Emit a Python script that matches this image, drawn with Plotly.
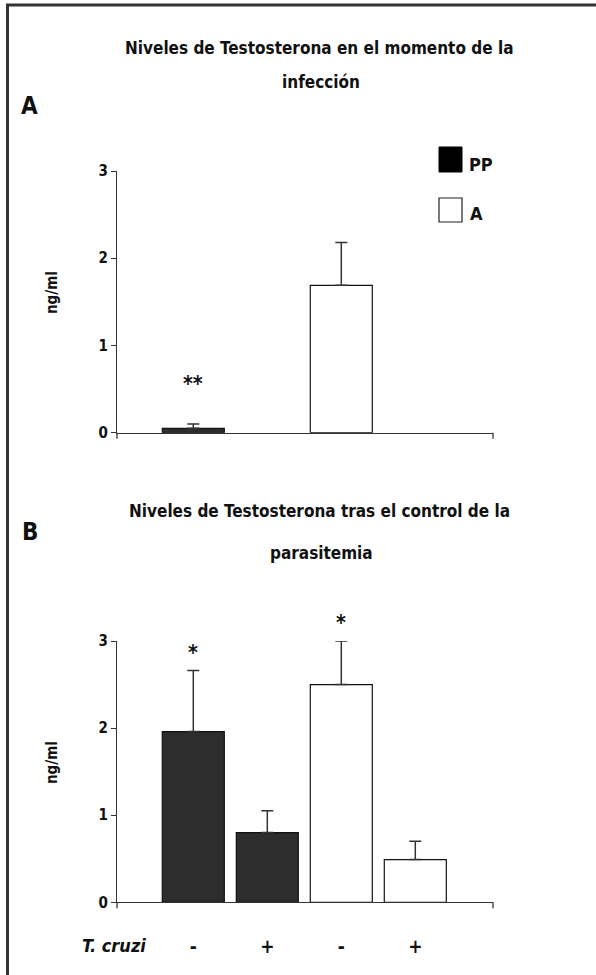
import plotly.graph_objects as go

# ---------------- data ----------------
# Panel A: testosterone at infection
a_groups = ["PP", "A"]
a_values = [0.05, 1.69]
a_errors = [0.05, 0.49]
a_stars = ["**", ""]
a_star_y = [0.61, None]

# Panel B: testosterone after parasitemia control
b_categories = ["PP -", "PP +", "A -", "A +"]
b_tick_labels = ["-", "+", "-", "+"]
b_pp_values = [1.96, 0.80]
b_pp_errors = [0.70, 0.25]
b_a_values = [2.50, 0.49]
b_a_errors = [0.50, 0.21]
b_stars = ["*", "", "*", ""]
b_star_y = [2.92, None, 3.26, None]

y_ticks = [0, 1, 2, 3]
y_max = 3

title_a = ["Niveles de Testosterona en el momento de la", "infección"]
title_b = ["Niveles de Testosterona tras el control de la", "parasitemia"]

# ---------------- layout helpers ----------------
W, H = 596, 975
def px(x):
    return x / W
def py(y):
    return 1 - y / H

FONT = "DejaVu Sans Condensed, Liberation Sans Narrow, sans-serif"
DARK = "#2d2d2d"
LINE = "#333333"

a_cats = ["PP", "_s1", "A", "_s2"]  # slots on the category axis
xrange_cat = [-1.031, 4.05]
bar_w = 0.838

fig = go.Figure()

def err(vals):
    return dict(type="data", array=vals, arrayminus=[0] * len(vals), symmetric=False,
                color=LINE, thickness=1.5, width=6)

# Panel A bars
fig.add_trace(go.Bar(x=[a_groups[0]], y=[a_values[0]], error_y=err([a_errors[0]]),
                     marker=dict(color=DARK, line=dict(color="#111", width=1.2)),
                     width=bar_w, xaxis="x", yaxis="y", showlegend=False, name="PP"))
fig.add_trace(go.Bar(x=[a_groups[1]], y=[a_values[1]], error_y=err([a_errors[1]]),
                     marker=dict(color="white", line=dict(color="#111", width=1.2)),
                     width=bar_w, xaxis="x", yaxis="y", showlegend=False, name="A"))

# Panel B bars
fig.add_trace(go.Bar(x=b_categories[:2], y=b_pp_values, error_y=err(b_pp_errors),
                     marker=dict(color=DARK, line=dict(color="#111", width=1.2)),
                     width=bar_w, xaxis="x2", yaxis="y2", showlegend=False, name="PP"))
fig.add_trace(go.Bar(x=b_categories[2:], y=b_a_values, error_y=err(b_a_errors),
                     marker=dict(color="white", line=dict(color="#111", width=1.2)),
                     width=bar_w, xaxis="x2", yaxis="y2", showlegend=False, name="A"))

yax = dict(range=[0, y_max], tickvals=y_ticks, showgrid=False, zeroline=False,
           showline=True, linecolor=LINE, linewidth=1.3, ticks="outside",
           ticklen=5, tickcolor=LINE, tickwidth=1.3, automargin=False,
           tickfont=dict(family=FONT, size=15, color="#111", weight="bold"),
           fixedrange=True)

xdom = [px(117), px(493)]
fig.update_layout(
    width=W, height=H, margin=dict(l=0, r=0, t=0, b=0, pad=0, autoexpand=False),
    paper_bgcolor="white", plot_bgcolor="white",
    barmode="overlay", showlegend=False,
    xaxis=dict(domain=xdom, anchor="y", type="category", categoryorder="array",
               categoryarray=a_cats, range=xrange_cat, showticklabels=False,
               ticks="", showgrid=False, zeroline=False, showline=True, automargin=False,
               linecolor=LINE, linewidth=1.3, fixedrange=True),
    yaxis=dict(domain=[py(432.7), py(171)], anchor="x", **yax),
    xaxis2=dict(domain=xdom, anchor="y2", type="category", categoryorder="array",
                categoryarray=b_categories, range=xrange_cat,
                tickvals=b_categories, ticktext=b_tick_labels, automargin=False,
                ticks="outside", ticklen=27, tickcolor="rgba(0,0,0,0)",
                tickfont=dict(family=FONT, size=19, color="#111", weight="bold"),
                showgrid=False, zeroline=False, showline=True,
                linecolor=LINE, linewidth=1.3, fixedrange=True),
    yaxis2=dict(domain=[py(902.3), py(641)], anchor="x2", **yax),
)

shapes = []
# frame (left and top edges)
shapes.append(dict(type="line", xref="paper", yref="paper", x0=px(7.5), x1=px(7.5),
                   y0=0, y1=py(5), line=dict(color=LINE, width=3)))
shapes.append(dict(type="line", xref="paper", yref="paper", x0=px(6), x1=1,
                   y0=py(5), y1=py(5), line=dict(color=LINE, width=3)))
# end ticks on x axes
for xr, yr in (("x domain", "y domain"), ("x2 domain", "y2 domain")):
    for xv in (0, 1):
        shapes.append(dict(type="line", xref=xr, yref=yr, x0=xv, x1=xv, y0=0, y1=-0.023,
                           line=dict(color=LINE, width=1.3)))
# legend swatches
shapes.append(dict(type="rect", xref="paper", yref="paper", x0=px(439), x1=px(462),
                   y0=py(172), y1=py(147), fillcolor="black", line=dict(color="black", width=1)))
shapes.append(dict(type="rect", xref="paper", yref="paper", x0=px(439), x1=px(462),
                   y0=py(222), y1=py(198), fillcolor="white", line=dict(color="#222", width=1.2)))
fig.update_layout(shapes=shapes)

ann = []
def text(x, y, s, size, bold=False, italic=False, angle=0, xanchor="center"):
    ann.append(dict(xref="paper", yref="paper", x=px(x), y=py(y), text=s, showarrow=False,
                    xanchor=xanchor, yanchor="middle", textangle=angle,
                    font=dict(family=FONT, size=size, color="#111",
                              weight="bold" if bold else "normal",
                              style="italic" if italic else "normal")))

text(319, 48, title_a[0], 17, bold=True)
text(321, 82, title_a[1], 17, bold=True)
text(319, 511, title_b[0], 17, bold=True)
text(321, 553, title_b[1], 17, bold=True)
text(30, 106, "A", 24, bold=True)
text(30, 532, "B", 24, bold=True)
text(52, 293, "ng/ml", 15, bold=True, angle=-90)
text(52, 763, "ng/ml", 15, bold=True, angle=-90)
text(467, 164, "PP", 18, bold=True, xanchor="left")
text(468, 213, "A", 18, bold=True, xanchor="left")
text(148, 945, "T. cruzi", 18, bold=True, italic=True, xanchor="right")

# significance stars, placed through the axes (y in domain fraction of the value range)
for g, s, yv in zip(a_groups, a_stars, a_star_y):
    if s:
        ann.append(dict(xref="x", yref="y domain", x=g, y=yv / y_max, text=s, showarrow=False,
                        xanchor="center", yanchor="middle", yshift=-5,
                        font=dict(family=FONT, size=21, color="#111", weight="bold")))
for c, s, yv in zip(b_categories, b_stars, b_star_y):
    if s:
        ann.append(dict(xref="x2", yref="y2 domain", x=c, y=yv / y_max, text=s, showarrow=False,
                        xanchor="center", yanchor="middle", yshift=-5,
                        font=dict(family=FONT, size=21, color="#111", weight="bold")))

fig.update_layout(annotations=ann)
css_js = ("var s=document.createElement('style');"
          "s.textContent='html,body{margin:0!important;padding:0!important;overflow:hidden;}';"
          "document.head.appendChild(s);")
fig.write_html("out.html", post_script=css_js, config={"displayModeBar": False})
